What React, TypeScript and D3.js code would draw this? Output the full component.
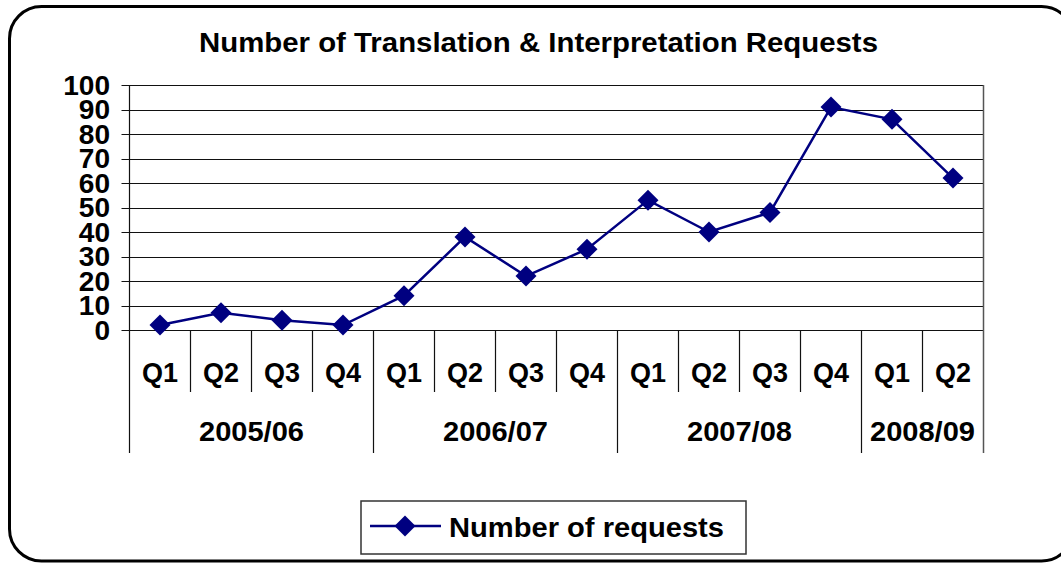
import React, { useRef, useEffect } from 'react';
import * as d3 from 'd3';

const quarters = ['Q1', 'Q2', 'Q3', 'Q4', 'Q1', 'Q2', 'Q3', 'Q4', 'Q1', 'Q2', 'Q3', 'Q4', 'Q1', 'Q2'];
const years = ['2005/06', '2006/07', '2007/08', '2008/09'];
const quartersPerYear = [4, 4, 4, 2];
const requests = [2, 7, 4, 2, 14, 38, 22, 33, 53, 40, 48, 91, 86, 62];
const yTicks = [0, 10, 20, 30, 40, 50, 60, 70, 80, 90, 100];

const FONT = '"Liberation Sans", Arial, sans-serif';
const NAVY = '#000080';

const App = () => {
    const svgRef = useRef(null);
    const width = 1061;
    const height = 563;

    useEffect(() => {
        const svg = d3.select(svgRef.current);
        svg.selectAll('*').remove();

        const left = 129.5, right = 983.5, top = 85, bottom = 330;

        // outer frame (runs off the right edge like the original)
        svg.append('rect')
            .attr('x', 9.5).attr('y', 6.5)
            .attr('width', 1064).attr('height', 554.5)
            .attr('rx', 32).attr('ry', 32)
            .attr('fill', 'white')
            .attr('stroke', 'black')
            .attr('stroke-width', 3);

        svg.append('text')
            .attr('x', 199).attr('y', 52)
            .attr('font-family', FONT)
            .attr('font-weight', 'bold')
            .attr('font-size', 27)
            .attr('textLength', 679)
            .attr('lengthAdjust', 'spacingAndGlyphs')
            .text('Number of Translation & Interpretation Requests');

        const idx = quarters.map((_, i) => i);
        const x = d3.scaleBand<number>().domain(idx).range([left, right]);
        const y = d3.scaleLinear().domain([0, 100]).range([bottom, top]);

        // gridlines + y ticks
        const g = svg.append('g');
        yTicks.forEach(t => {
            const yy = Math.round(y(t)) + 0.5;
            g.append('line')
                .attr('x1', left - 8).attr('x2', right)
                .attr('y1', yy).attr('y2', yy)
                .attr('stroke', '#111').attr('stroke-width', 1.2);
            g.append('text')
                .attr('x', 110).attr('y', y(t) + 10)
                .attr('text-anchor', 'end')
                .attr('font-family', FONT)
                .attr('font-weight', 'bold')
                .attr('font-size', 27)
                .attr('transform', `translate(110,0) scale(1.04,1) translate(-110,0)`)
                .text(t);
        });

        // plot borders
        g.append('line')
            .attr('x1', left).attr('x2', left)
            .attr('y1', top).attr('y2', 453)
            .attr('stroke', '#111').attr('stroke-width', 1.2);
        g.append('line')
            .attr('x1', right).attr('x2', right)
            .attr('y1', top).attr('y2', 453)
            .attr('stroke', '#555').attr('stroke-width', 1.5);

        // category dividers
        const yearStarts = d3.cumsum([0, ...quartersPerYear]);
        idx.slice(1).forEach(i => {
            const isYear = yearStarts.includes(i);
            g.append('line')
                .attr('x1', x(i)).attr('x2', x(i))
                .attr('y1', bottom).attr('y2', isYear ? 453 : 392)
                .attr('stroke', '#111').attr('stroke-width', 1.2);
        });

        g.selectAll('.q')
            .data(quarters)
            .enter()
            .append('text')
            .attr('x', (d, i) => x(i) + x.bandwidth() / 2)
            .attr('y', 382)
            .attr('text-anchor', 'middle')
            .attr('font-family', FONT)
            .attr('font-weight', 'bold')
            .attr('font-size', 27)
            .text(d => d);

        years.forEach((yr, k) => {
            const a = x(yearStarts[k]);
            const b = yearStarts[k + 1] < quarters.length ? x(yearStarts[k + 1]) : right;
            g.append('text')
                .attr('x', (a + b) / 2)
                .attr('y', 441)
                .attr('text-anchor', 'middle')
                .attr('font-family', FONT)
                .attr('font-weight', 'bold')
                .attr('font-size', 27)
                .attr('textLength', 105)
                .attr('lengthAdjust', 'spacingAndGlyphs')
                .text(yr);
        });

        // series
        const line = d3.line<number>()
            .x((d, i) => x(i) + x.bandwidth() / 2)
            .y(d => y(d));
        svg.append('path')
            .datum(requests)
            .attr('d', line)
            .attr('fill', 'none')
            .attr('stroke', NAVY)
            .attr('stroke-width', 2.5);

        const diamond = d3.symbol().type(d3.symbolSquare).size(220);
        svg.selectAll('.pt')
            .data(requests)
            .enter()
            .append('path')
            .attr('d', diamond)
            .attr('transform', (d, i) => `translate(${x(i) + x.bandwidth() / 2},${y(d)}) rotate(45)`)
            .attr('fill', NAVY);

        // legend
        svg.append('rect')
            .attr('x', 361).attr('y', 501)
            .attr('width', 385).attr('height', 53)
            .attr('fill', 'white')
            .attr('stroke', '#333').attr('stroke-width', 1.5);
        svg.append('line')
            .attr('x1', 370).attr('x2', 441)
            .attr('y1', 526).attr('y2', 526)
            .attr('stroke', NAVY).attr('stroke-width', 2.5);
        svg.append('path')
            .attr('d', diamond)
            .attr('transform', 'translate(405,526) rotate(45)')
            .attr('fill', NAVY);
        svg.append('text')
            .attr('x', 449).attr('y', 537)
            .attr('font-family', FONT)
            .attr('font-weight', 'bold')
            .attr('font-size', 28)
            .attr('textLength', 275)
            .attr('lengthAdjust', 'spacingAndGlyphs')
            .text('Number of requests');
    }, []);

    return (
        <svg ref={svgRef} width={width} height={height}
            style={{ position: 'absolute', left: 0, top: 0, background: 'white' }}></svg>
    );
};

export default App;
